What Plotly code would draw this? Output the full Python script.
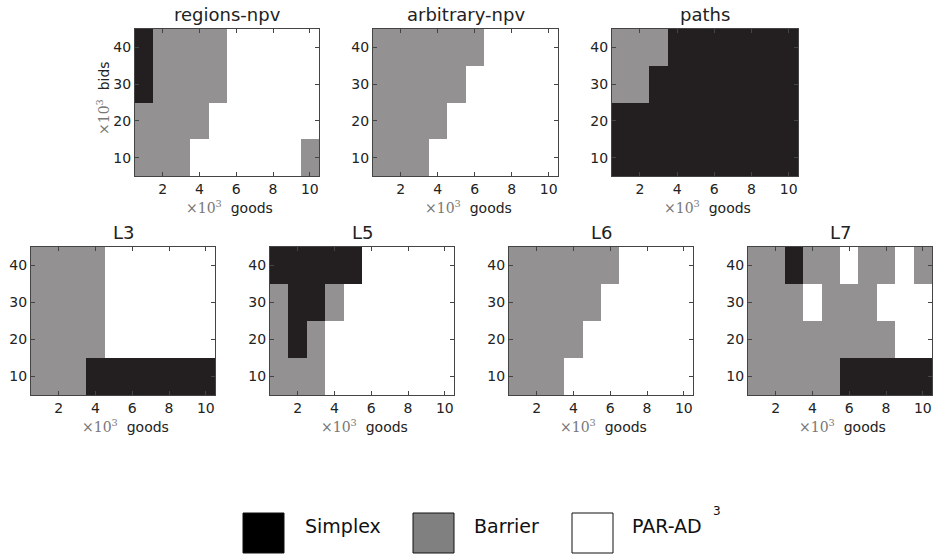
import plotly.graph_objects as go

goods = [1, 2, 3, 4, 5, 6, 7, 8, 9, 10]
bids = [10, 20, 30, 40]
x_ticks = [2, 4, 6, 8, 10]
y_ticks = [10, 20, 30, 40]
solvers = ["Simplex", "Barrier", "PAR-AD"]

# rows: bids 10, 20, 30, 40 ; S=Simplex, B=Barrier, P=PAR-AD
regions_npv = ["BBBPPPPPPB", "BBBBPPPPPP", "SBBBBPPPPP", "SBBBBPPPPP"]
arbitrary_npv = ["BBBPPPPPPP", "BBBBPPPPPP", "BBBBBPPPPP", "BBBBBBPPPP"]
paths = ["SSSSSSSSSS", "SSSSSSSSSS", "BBSSSSSSSS", "BBBSSSSSSS"]
L3 = ["BBBSSSSSSS", "BBBBPPPPPP", "BBBBPPPPPP", "BBBBPPPPPP"]
L5 = ["BBBPPPPPPP", "BSBPPPPPPP", "BSSBPPPPPP", "SSSSSPPPPP"]
L6 = ["BBBPPPPPPP", "BBBBPPPPPP", "BBBBBPPPPP", "BBBBBBPPPP"]
L7 = ["BBBBBSSSSS", "BBBBBBBBPP", "BBBPBBBPPP", "BBSBBPBBPB"]

panels = [
    ("regions-npv", regions_npv),
    ("arbitrary-npv", arbitrary_npv),
    ("paths", paths),
    ("L3", L3),
    ("L5", L5),
    ("L6", L6),
    ("L7", L7),
]

W, H = 936, 556
code = {"S": 0, "B": 1, "P": 2}
C_S, C_B, C_P = "#231f20", "#939192", "#ffffff"
cscale = [[0, C_S], [0.3333, C_S], [0.3333, C_B], [0.6667, C_B], [0.6667, C_P], [1, C_P]]

# pixel boxes (left, right, top, bottom)
boxes = [
    (135, 319, 29, 176), (373, 558, 29, 176), (612, 798, 29, 176),
    (31, 215, 247, 395), (270, 454, 247, 395), (509, 693, 247, 395), (748, 932, 247, 395),
]

FONT = "DejaVu Sans"
fig = go.Figure()
annotations = []
layout = {}
for i, ((title, grid), (l, r, t, b)) in enumerate(zip(panels, boxes)):
    n = "" if i == 0 else str(i + 1)
    z = [[code[c] for c in row] for row in grid]
    fig.add_trace(go.Heatmap(
        z=z, x=goods, y=bids, zmin=0, zmax=2, colorscale=cscale,
        showscale=False, xaxis="x" + n, yaxis="y" + n, hoverinfo="skip",
    ))
    axcommon = dict(
        showgrid=False, zeroline=False, showline=True, linecolor="#444", linewidth=1.2,
        mirror="ticks", ticks="inside", ticklen=4, tickcolor="#444",
        tickfont=dict(family=FONT, size=14, color="#222"),
    )
    layout["xaxis" + n] = dict(axcommon, domain=[l / W, r / W], range=[0.5, 10.5],
                               tickvals=x_ticks, anchor="y" + n)
    layout["yaxis" + n] = dict(axcommon, domain=[1 - b / H, 1 - t / H], range=[5, 45],
                               tickvals=y_ticks, anchor="x" + n)
    annotations.append(dict(text=title, x=(l + r) / 2 / W, y=1 - (t - 2) / H,
                            xref="paper", yref="paper", xanchor="center", yanchor="bottom",
                            showarrow=False, font=dict(family=FONT, size=18, color="#222")))
    annotations.append(dict(
        text="<span style='font-family:DejaVu Serif;color:#777'>×10<sup>3</sup></span>  goods",
        x=(l + r) / 2 / W + 0.003, y=1 - (b + 31) / H, xref="paper", yref="paper",
        xanchor="center", yanchor="middle", showarrow=False,
        font=dict(family=FONT, size=14, color="#222")))

annotations.append(dict(
    text="<span style='font-family:DejaVu Serif;color:#777'>×10<sup>3</sup></span>  bids",
    x=103 / W, y=1 - 98 / H, xref="paper", yref="paper", textangle=-90,
    xanchor="center", yanchor="middle", showarrow=False,
    font=dict(family=FONT, size=14, color="#222")))

# legend
shapes = []
leg = [(243, "#000000", 303), (413, "#808080", 472), (572, "#ffffff", 630)]
for (x0, col, tx), name in zip(leg, solvers):
    shapes.append(dict(type="rect", xref="paper", yref="paper",
                       x0=x0 / W, x1=(x0 + 41) / W, y0=1 - 553 / H, y1=1 - 513 / H,
                       fillcolor=col, line=dict(color="#111", width=1)))
    annotations.append(dict(text=name, x=tx / W, y=1 - 526 / H, xref="paper", yref="paper",
                            xanchor="left", yanchor="middle", showarrow=False,
                            font=dict(family=FONT, size=19, color="#111")))
annotations.append(dict(text="3", x=711 / W, y=1 - 511 / H, xref="paper", yref="paper",
                        xanchor="left", yanchor="middle", showarrow=False,
                        font=dict(family=FONT, size=12, color="#111")))

fig.update_layout(**layout)
fig.update_layout(
    width=W, height=H, margin=dict(l=0, r=0, t=0, b=0),
    plot_bgcolor="white", paper_bgcolor="white",
    annotations=annotations, shapes=shapes, showlegend=False,
)
fig.write_html("out.html", config={"displayModeBar": False},
               post_script="document.body.style.margin='0px';document.body.style.overflow='hidden';")
